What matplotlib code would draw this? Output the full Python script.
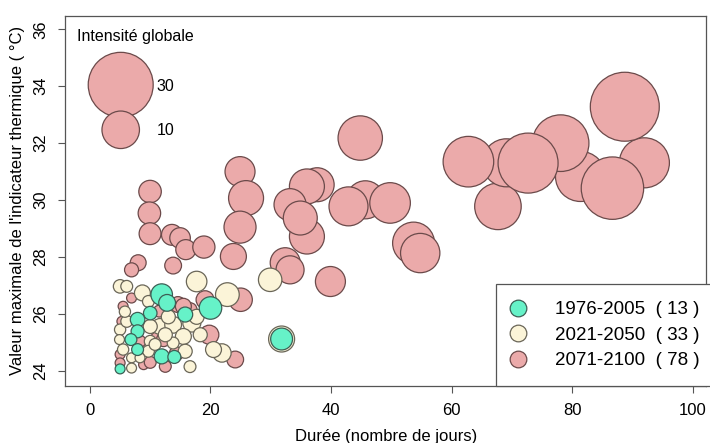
import matplotlib
matplotlib.use("Agg")
from matplotlib import pyplot as plt
from matplotlib.lines import Line2D
import numpy as np

plt.rcParams['font.family'] = ['Liberation Sans', 'DejaVu Sans']

# 1976-2005 (cyan)
x_ref = [11.9, 12.8, 10.0, 15.8, 7.9, 7.9, 6.8, 7.9, 11.9, 14.0, 5.0, 20.0, 31.8]
y_ref = [26.68, 26.39, 26.03, 25.98, 25.8, 25.39, 25.1, 24.75, 24.51, 24.49, 24.07, 26.21, 25.12]
i_ref = [3.3, 2.0, 1.3, 1.6, 1.5, 1.2, 1.0, 1.0, 1.6, 1.2, 0.7, 3.6, 3.4]

# 2021-2050 (cream)
x_mid = [17.7, 22.8, 21.9, 20.5, 29.9, 31.8, 5.0, 6.1, 8.7, 11.6, 13.8, 16.9, 15.5,
         13.8, 15.8, 10.0, 10.0, 9.7, 5.0, 4.9, 5.5, 6.9, 6.9, 6.1, 8.3, 9.7,
         10.8, 12.5, 18.3, 5.8, 16.6, 17.7, 13.0]
y_mid = [27.14, 26.68, 24.63, 24.75, 27.2, 25.12, 26.97, 26.97, 26.74, 25.56, 25.62, 25.68, 25.21,
         24.98, 24.69, 25.56, 25.04, 24.69, 25.45, 25.1, 24.75, 24.46, 24.1, 25.74, 24.46, 26.44,
         24.93, 25.27, 25.27, 26.08, 24.15, 25.9, 25.9]
i_mid = [3.0, 4.0, 2.4, 1.8, 3.9, 4.8, 1.3, 1.0, 1.8, 1.8, 2.0, 2.3, 1.8,
         1.0, 1.4, 1.4, 1.0, 1.0, 0.9, 0.7, 0.9, 0.7, 0.7, 1.0, 0.7, 1.0,
         1.0, 1.4, 1.4, 0.9, 1.0, 1.6, 1.4]

# 2071-2100 (pink)
x_fut = [67.7, 69.1, 62.8, 81.4, 78.1, 72.7, 92.0, 88.75, 86.7,
         44.85, 37.7, 36.0, 33.2, 36.0, 34.9,
         45.7, 42.9, 49.8, 53.7, 54.8, 39.9, 32.4, 33.2,
         24.9, 25.9, 24.9, 23.8,
         9.97, 9.86, 9.97, 13.6, 14.95, 15.9, 18.9, 13.8, 8.0, 6.9,
         6.9, 5.5, 5.0, 5.0, 5.3, 8.3, 8.9, 11.1, 12.2, 12.5, 19.1, 25.0, 19.8, 24.1,
         14.6, 16.6, 14.3, 10.0, 11.5, 15.5]
y_fut = [29.78, 31.31, 31.35, 30.83, 32.0, 31.3, 31.31, 33.28, 30.42,
         32.18, 30.54, 30.48, 29.84, 28.72, 29.37,
         30.01, 29.78, 29.9, 28.49, 28.14, 27.14, 27.8, 27.55,
         31.0, 30.07, 29.05, 28.02,
         30.3, 29.54, 28.82, 28.78, 28.67, 28.26, 28.35, 27.7, 27.8, 27.55,
         26.56, 26.27, 24.58, 24.28, 25.74, 25.04, 24.22, 25.16, 25.1, 24.16, 26.5, 26.5, 25.27, 24.4,
         26.33, 26.15, 24.6, 24.3, 26.1, 26.27]
i_fut = [15.4, 16.4, 18.2, 17.8, 22.8, 25.6, 17.8, 33.8, 27.7,
         14.0, 8.2, 8.7, 7.3, 8.7, 8.2,
         10.3, 10.8, 11.7, 12.5, 11.0, 6.4, 6.4, 5.6,
         6.4, 8.7, 7.3, 4.8,
         3.6, 3.6, 3.4, 3.1, 3.0, 2.85, 3.5, 2.0, 1.8, 1.4,
         0.7, 0.7, 0.7, 0.7, 0.7, 1.0, 0.7, 1.0, 1.4, 1.0, 2.3, 3.9, 2.6, 2.0,
         1.8, 1.4, 1.4, 1.0, 1.0, 1.8]

periods = ["1976-2005", "2021-2050", "2071-2100"]
counts = [13, 33, 78]
colors = ["#66F2C8", "#FBF4D8", "#EBAAAA"]
edges = ["#3d5f55", "#6a6658", "#6b4a4a"]

def size(v):
    # radius proportional to sqrt(intensity)
    return 72.9 * np.asarray(v)

fig = plt.figure(figsize=(7.1, 4.43), dpi=100)
ax = fig.add_axes([0.0915, 0.1287, 0.9035, 0.836])

ax.scatter(x_fut, y_fut, s=size(i_fut), c=colors[2], edgecolors=edges[2], linewidths=0.9, zorder=2)
ax.scatter(x_mid, y_mid, s=size(i_mid), c=colors[1], edgecolors=edges[1], linewidths=0.9, zorder=3)
ax.scatter(x_ref, y_ref, s=size(i_ref), c=colors[0], edgecolors=edges[0], linewidths=0.9, zorder=4)

# size key
ax.text(-2.2, 35.73, "Intensité globale", fontsize=11.5, va="center", ha="left")
ax.scatter([5.1, 5.1], [34.05, 32.47], s=size([30, 10]), c=colors[2], edgecolors=edges[2], linewidths=0.9, zorder=2)
ax.text(11.1, 34.0, "30", fontsize=11.5, va="center")
ax.text(11.1, 32.45, "10", fontsize=11.5, va="center")

handles = [Line2D([], [], ls="none", marker="o", markersize=12, markerfacecolor=colors[k],
                  markeredgecolor=edges[k], markeredgewidth=0.9) for k in range(3)]
labels = ["{}  ( {} )".format(p, n) for p, n in zip(periods, counts)]
leg = ax.legend(handles, labels, loc="lower right", bbox_to_anchor=(1.016, 0), borderaxespad=0,
                fontsize=13.5, fancybox=False, framealpha=1, edgecolor="#555555", handletextpad=1.7,
                labelspacing=0.44, borderpad=0.9, handlelength=0.55)
leg.get_frame().set_linewidth(0.9)

ax.set_xlim(-4.15, 102.3)
ax.set_ylim(23.47, 36.48)
ax.set_xticks([0, 20, 40, 60, 80, 100])
ax.set_yticks([24, 26, 28, 30, 32, 34, 36])
for lab in ax.get_yticklabels():
    lab.set_rotation(90)
    lab.set_va("center")
ax.tick_params(labelsize=12, length=5, width=0.8, color="#555555", pad=7)
for sp in ax.spines.values():
    sp.set_color("#555555")
    sp.set_linewidth(0.9)

ax.set_xlabel("Durée (nombre de jours)", fontsize=12, labelpad=8)
ax.set_ylabel("Valeur maximale de l'indicateur thermique ( °C)", fontsize=12, labelpad=6)

plt.savefig("out.png", dpi=100)
